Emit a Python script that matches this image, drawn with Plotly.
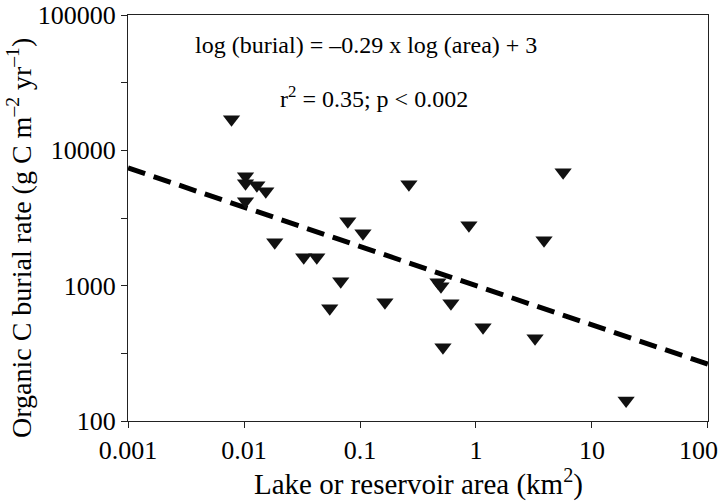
import numpy as np
import plotly.graph_objects as go

# Lake / reservoir surface area (km2) and organic carbon burial rate (g C m-2 yr-1)
area_km2 = [0.0078, 0.0103, 0.0103, 0.0129, 0.0154, 0.0103, 0.0184, 0.0327,
            0.0424, 0.0682, 0.0548, 0.0785, 0.106, 0.164, 0.264, 0.869,
            0.470, 0.499, 0.608, 0.519, 1.15, 3.23, 3.86, 5.64, 19.7]
burial_rate = [17000, 6440, 5710, 5530, 4990, 4210, 2090, 1620,
               1620, 1080, 681, 2990, 2440, 753, 5620, 2800,
               1059, 991, 741, 350, 492, 408, 2170, 6900, 142]

# Log-log regression: log(burial) = slope * log(area) + intercept
fit_slope = -0.29
fit_intercept = 3.0
fit_range = [0.001, 100]

x_tick_vals = [0.001, 0.01, 0.1, 1, 10, 100]
x_tick_text = ["0.001", "0.01", "0.1", "1", "10", "100"]
y_tick_vals = [100, 1000, 10000, 100000]
y_tick_text = ["100", "1000", "10000", "100000"]

fit_x = np.array(fit_range, dtype=float)
fit_y = 10 ** (fit_slope * np.log10(fit_x) + fit_intercept)

# half-decade minor ticks on the burial axis
y_minor = [v * 10 ** 0.5 for v in y_tick_vals[:-1]]

# the last x label sits at the right edge of the page; it is drawn separately,
# nudged left so that it stays inside the page
x_labels = list(x_tick_text[:-1]) + [""]

FONT = "Liberation Serif"
TICK_SIZE = 26
NOTE_SIZE = 24

# plot area in pixels (used to place annotations in paper units)
PL, PR, PT, PB = 128, 708, 15, 421


def px_x(px):
    return (px - PL) / (PR - PL)


def px_y(py):
    return 1 - (py - PT) / (PB - PT)


fig = go.Figure()
fig.add_trace(go.Scatter(
    x=fit_x, y=fit_y, mode="lines",
    line=dict(color="black", width=5, dash="18px,9px"),
    hoverinfo="skip", showlegend=False,
))
fig.add_trace(go.Scatter(
    x=area_km2, y=burial_rate, mode="markers",
    marker=dict(symbol="triangle-down", size=15, color="#111111",
                line=dict(width=0)),
    showlegend=False,
))

fig.add_annotation(
    x=np.log10(x_tick_vals[-1]), xref="x", xshift=-9,
    y=px_y(450), yref="paper", xanchor="center", yanchor="middle",
    text=x_tick_text[-1], showarrow=False,
    font=dict(family=FONT, size=TICK_SIZE, color="black"),
)

fig.add_annotation(
    x=px_x(366), y=px_y(45), xref="paper", yref="paper",
    xanchor="center", yanchor="middle",
    text=f"log (burial) = –{abs(fit_slope):.2f} x log (area) + {fit_intercept:g}",
    showarrow=False, font=dict(family=FONT, size=NOTE_SIZE, color="black"),
)
fig.add_annotation(
    x=px_x(374), y=px_y(97), xref="paper", yref="paper",
    xanchor="center", yanchor="middle",
    text="r<sup>2</sup> = 0.35; p < 0.002",
    showarrow=False, font=dict(family=FONT, size=NOTE_SIZE, color="black"),
)
# axis titles
fig.add_annotation(
    x=px_x(418), y=px_y(483), xref="paper", yref="paper",
    xanchor="center", yanchor="middle",
    text="Lake or reservoir area (km<sup>2</sup>)",
    showarrow=False, font=dict(family=FONT, size=29, color="black"),
)
fig.add_annotation(
    x=px_x(19), y=px_y(238), xref="paper", yref="paper",
    xanchor="center", yanchor="middle", textangle=-90,
    text="Organic C burial rate (g C m<sup>–2</sup> yr<sup>–1</sup>)",
    showarrow=False, font=dict(family=FONT, size=28, color="black"),
)

axis_common = dict(
    type="log", showgrid=False, zeroline=False,
    showline=True, linecolor="#222222", linewidth=1, mirror=True,
    ticks="outside", ticklen=6, tickwidth=1, tickcolor="#222222",
    tickfont=dict(family=FONT, size=TICK_SIZE, color="black"),
    ticklabeloverflow="allow", automargin=False,
)

fig.update_xaxes(
    **axis_common,
    range=[-3.0005, 2.0005],
    tickvals=x_tick_vals, ticktext=x_labels,
)
fig.update_yaxes(
    **axis_common,
    range=[2, 5],
    tickvals=y_tick_vals, ticktext=y_tick_text,
    minor=dict(tickvals=y_minor, ticks="outside", ticklen=6,
               tickcolor="#222222", showgrid=False),
)

fig.update_layout(
    width=720, height=504,
    margin=dict(l=PL, r=720 - PR, t=PT, b=504 - PB, autoexpand=False),
    paper_bgcolor="white", plot_bgcolor="white",
    font=dict(family=FONT, color="black"),
)

fig.write_html("out.html")
